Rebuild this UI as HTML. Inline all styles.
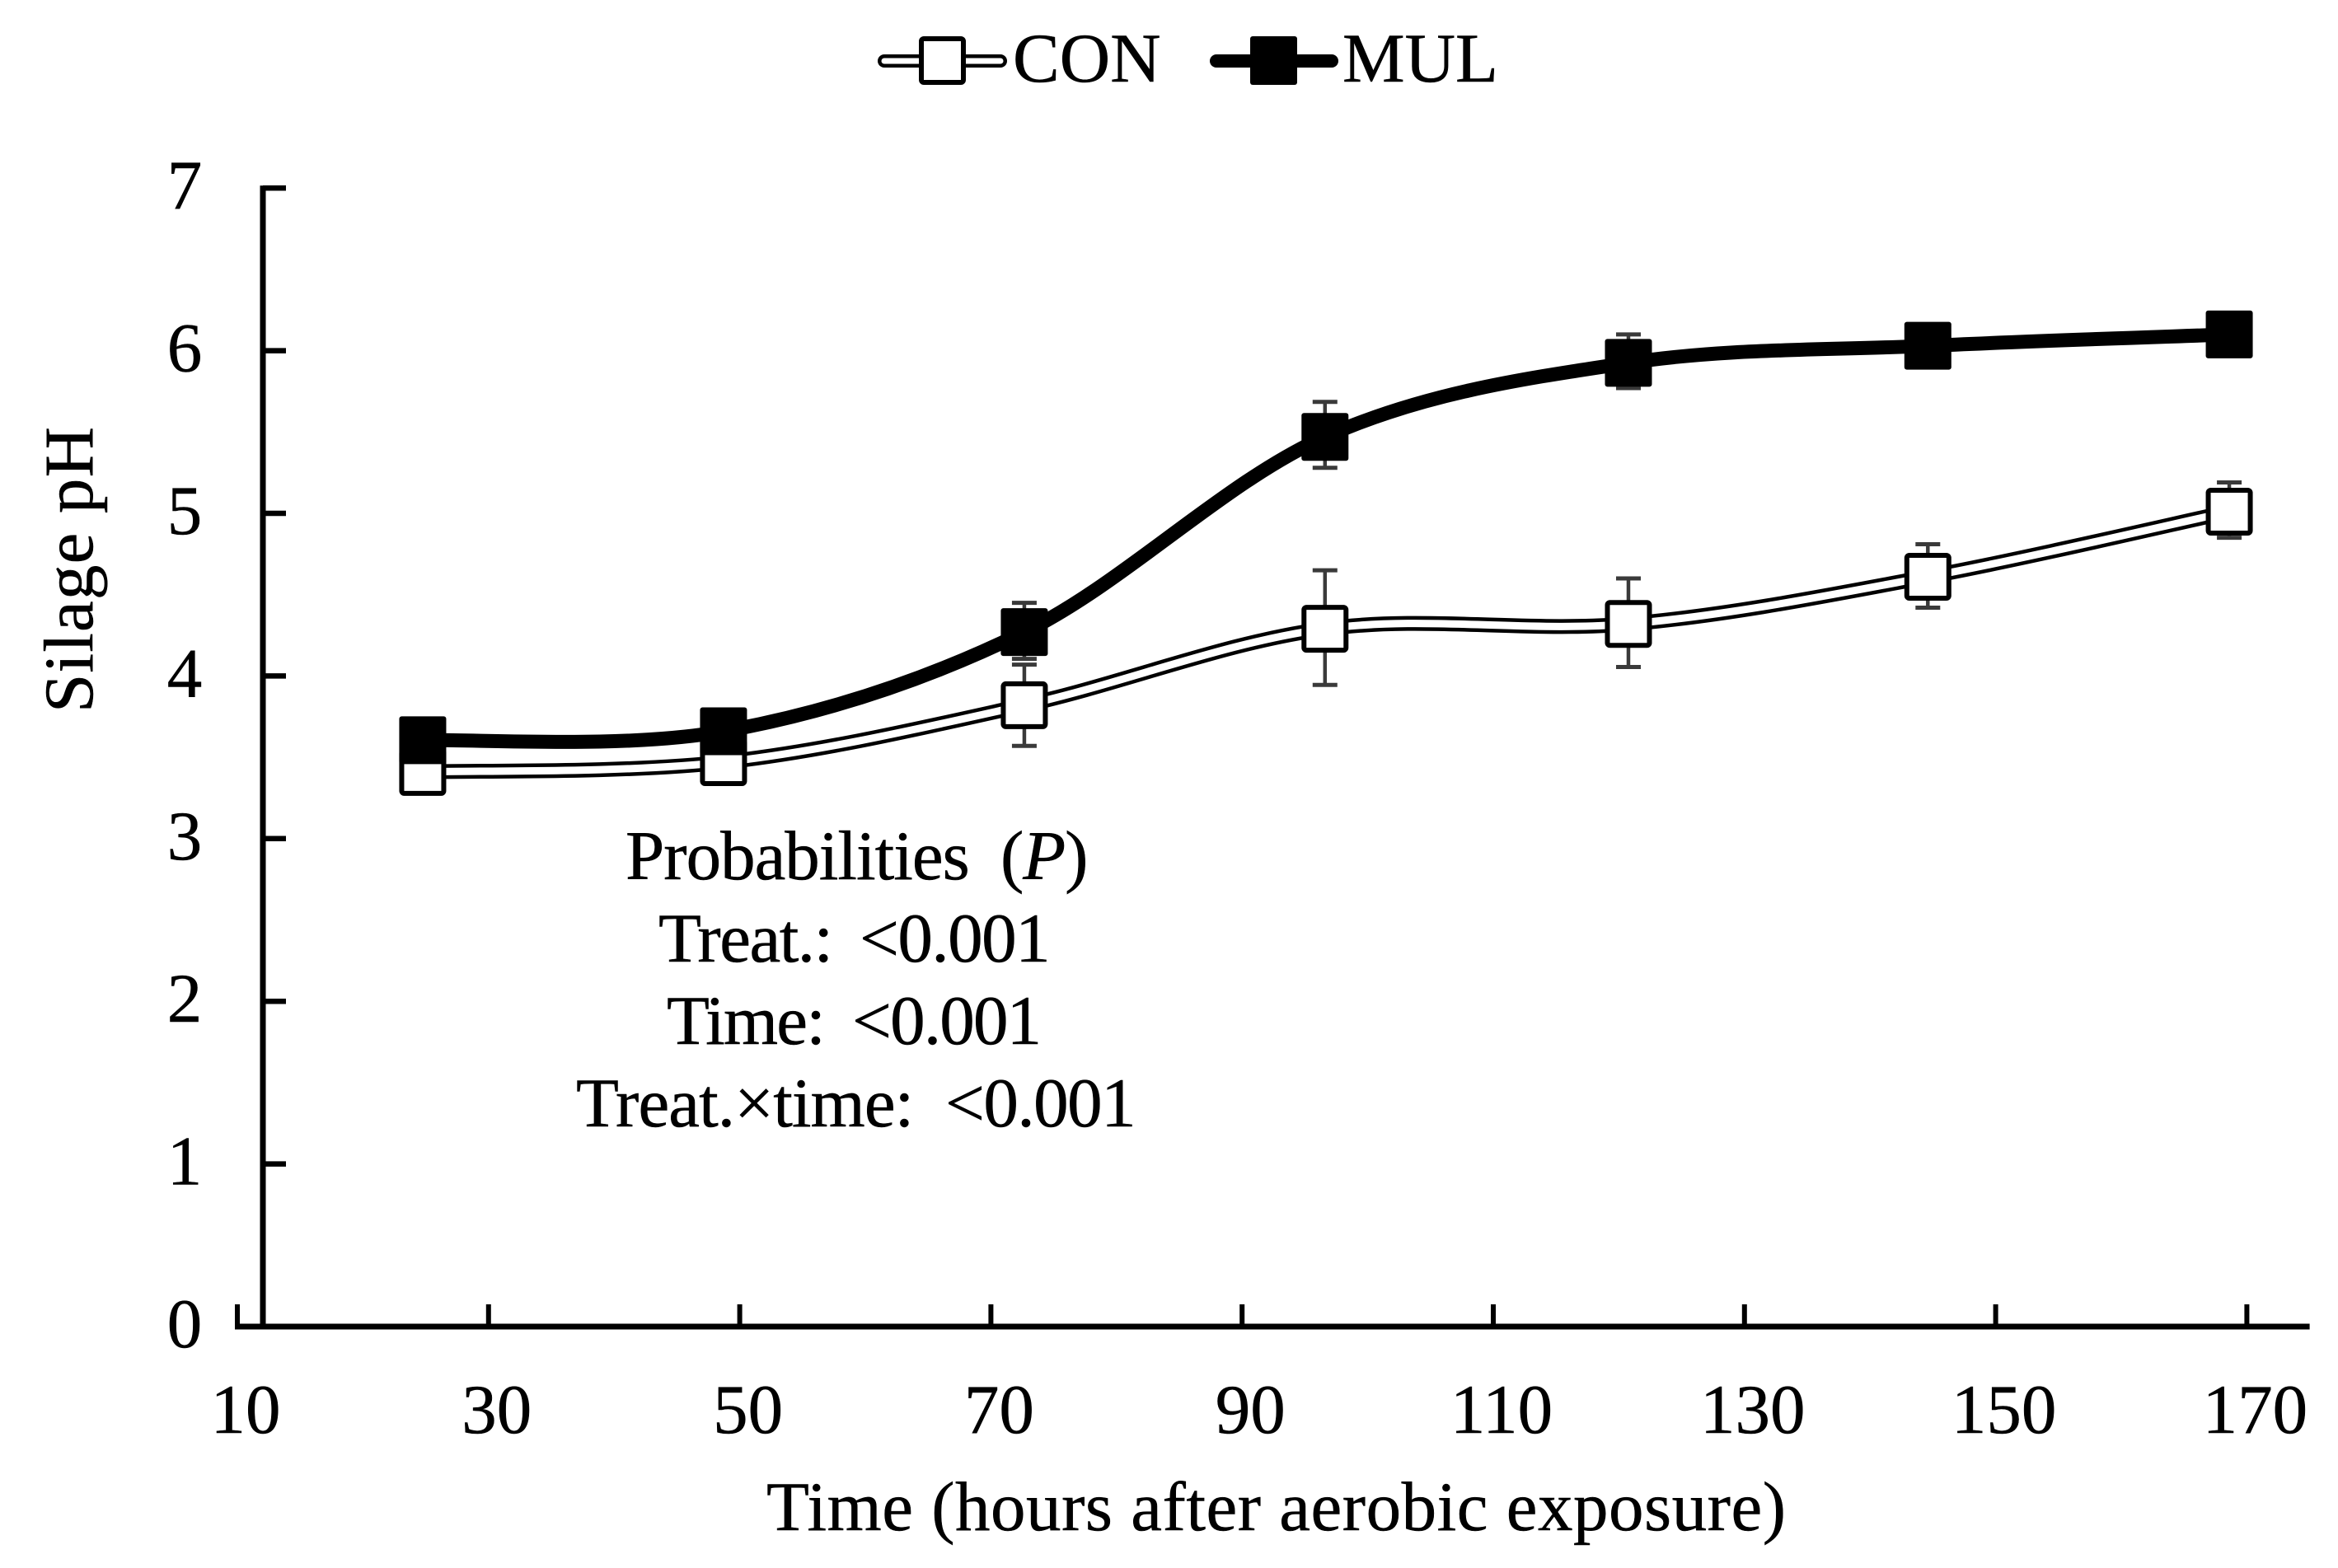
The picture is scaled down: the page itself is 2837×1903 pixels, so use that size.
<!DOCTYPE html>
<html lang="en">
<head>
<meta charset="utf-8">
<title>Silage pH over time after aerobic exposure</title>
<style>
html,body{margin:0;padding:0;background:#fff;}
svg{display:block;}
text{font-family:"Liberation Serif",serif;font-size:85px;fill:#000;stroke:#000;stroke-width:0.5px;}
</style>
</head>
<body>
<svg id="chart" xmlns="http://www.w3.org/2000/svg" width="2837" height="1903" viewBox="0 0 2837 1903">
  <rect x="0" y="0" width="2837" height="1903" fill="#ffffff"/>

  <g id="axes"></g>
  <g id="series"></g>

  <g>
    <g>
      <line x1="1073" y1="74" x2="1214" y2="74" stroke="#000" stroke-width="16" stroke-linecap="round"/>
      <line x1="1073" y1="74" x2="1214" y2="74" stroke="#fff" stroke-width="7" stroke-linecap="round"/>
      <rect x="1118" y="47" width="51" height="53" rx="3" fill="#fff" stroke="#000" stroke-width="6"/>
      <text x="1229" y="99">CON</text>
    </g>
    <g>
      <line x1="1476" y1="74" x2="1616" y2="74" stroke="#000" stroke-width="16" stroke-linecap="round"/>
      <rect x="1517" y="44" width="57" height="59" rx="3" fill="#000"/>
      <text x="1629" y="99">MUL</text>
    </g>
  </g>

  <text transform="translate(112 865) rotate(-90)" x="0" y="0" textLength="347" lengthAdjust="spacing">Silage pH</text>
  <text x="930" y="1857" textLength="1237" lengthAdjust="spacing">Time (hours after aerobic exposure)</text>

  <g>
    <text x="759" y="1067" letter-spacing="-1" word-spacing="18">Probabilities (<tspan font-style="italic">P</tspan>)</text>
    <text x="799" y="1167" letter-spacing="-1.5">Treat.: <tspan x="1043">&lt;0.001</tspan></text>
    <text x="809" y="1267" letter-spacing="-1.8">Time: <tspan x="1034">&lt;0.001</tspan></text>
    <text x="699" y="1367" letter-spacing="-0.9">Treat.×time: <tspan x="1147" letter-spacing="-1.5">&lt;0.001</tspan></text>
  </g>
</svg>

<script>
// Chart data
const xTickLabels = [10, 30, 50, 70, 90, 110, 130, 150, 170];
const yTickLabels = [0, 1, 2, 3, 4, 5, 6, 7];
const times = [24.76, 48.71, 72.66, 96.6, 120.76, 144.6, 168.6];
const conValues = [3.41, 3.47, 3.82, 4.29, 4.32, 4.61, 5.01];
const conErrUp = [0.05, 0.05, 0.25, 0.36, 0.28, 0.2, 0.18];
const conErrDown = [0.05, 0.05, 0.25, 0.345, 0.265, 0.19, 0.16];
const mulValues = [3.605, 3.66, 4.27, 5.47, 5.925, 6.03, 6.1];
const mulErrUp = [0.06, 0.06, 0.18, 0.215, 0.175, 0.1, 0.08];
const mulErrDown = [0.06, 0.06, 0.165, 0.19, 0.155, 0.1, 0.08];

const SVG_NS = 'http://www.w3.org/2000/svg';
const xScale = function (t) { return 288 + (t - 10) * 15.24; };
const yScale = function (v) { return 1610 - v * 197.4; };
const X_AXIS_MAX = 175;

function make(parent, tag, attrs) {
  const el = document.createElementNS(SVG_NS, tag);
  Object.keys(attrs).forEach(function (k) { el.setAttribute(k, attrs[k]); });
  parent.appendChild(el);
  return el;
}

function smoothPath(xs, ys) {
  let d = 'M' + xs[0] + ' ' + ys[0];
  for (let i = 0; i < xs.length - 1; i++) {
    const i0 = Math.max(i - 1, 0);
    const i3 = Math.min(i + 2, xs.length - 1);
    const c1x = xs[i] + (xs[i + 1] - xs[i0]) / 6;
    const c1y = ys[i] + (ys[i + 1] - ys[i0]) / 6;
    const c2x = xs[i + 1] - (xs[i3] - xs[i]) / 6;
    const c2y = ys[i + 1] - (ys[i3] - ys[i]) / 6;
    d += 'C' + c1x + ' ' + c1y + ' ' + c2x + ' ' + c2y + ' ' + xs[i + 1] + ' ' + ys[i + 1];
  }
  return d;
}

function drawAxes() {
  const axes = document.getElementById('axes');
  const left = xScale(xTickLabels[0]);
  const right = xScale(X_AXIS_MAX);
  const base = yScale(0);
  const top = yScale(yTickLabels[yTickLabels.length - 1]);
  const yAxisX = 319;

  const xAxis = make(axes, 'line', { x1: left - 3, y1: base, x2: right, y2: base, stroke: '#000', 'stroke-width': 7 });
  
  

  const yAxis = make(axes, 'line', { x1: yAxisX, y1: top - 3, x2: yAxisX, y2: base, stroke: '#000', 'stroke-width': 7 });
  
  

  xTickLabels.forEach(function (label) {
    const px = xScale(label);
    const tick = make(axes, 'line', { x1: px, y1: base, x2: px, y2: base - 27, stroke: '#000', 'stroke-width': 6 });
    
    
    const txt = make(axes, 'text', { x: px + 10, y: 1739, 'text-anchor': 'middle' });
    
    
    txt.textContent = label;
  });

  yTickLabels.forEach(function (label) {
    const py = yScale(label);
    if (label > 0) {
      const tick = make(axes, 'line', { x1: yAxisX, y1: py, x2: yAxisX + 28, y2: py, stroke: '#000', 'stroke-width': 6.5 });
      
      
    }
    const txt = make(axes, 'text', { x: 224, y: py + 25, 'text-anchor': 'middle' });
    
    
    txt.textContent = label;
  });
}

function drawErrorBars(group, key, values, up, down) {
  values.forEach(function (v, i) {
    const px = xScale(times[i]);
    const yTop = yScale(v + up[i]);
    const yBottom = yScale(v - down[i]);
    const stem = make(group, 'line', { x1: px, y1: yTop, x2: px, y2: yBottom, stroke: '#3a3a3a', 'stroke-width': 4.5 });
    
    
    const capTop = make(group, 'line', { x1: px - 15, y1: yTop, x2: px + 15, y2: yTop, stroke: '#3a3a3a', 'stroke-width': 5 });
    
    
    const capBottom = make(group, 'line', { x1: px - 15, y1: yBottom, x2: px + 15, y2: yBottom, stroke: '#3a3a3a', 'stroke-width': 5 });
    
    
  });
}

function drawCon(group) {
  const xs = times.map(xScale);
  const ys = conValues.map(yScale);
  const d = smoothPath(xs, ys);
  const outer = make(group, 'path', { d: d, fill: 'none', stroke: '#000', 'stroke-width': 18 });
  
  
  const inner = make(group, 'path', { d: d, fill: 'none', stroke: '#fff', 'stroke-width': 9 });
  
  
  xs.forEach(function (px, i) {
    const m = make(group, 'rect', { x: px - 25.5, y: ys[i] - 26, width: 51, height: 52, rx: 3, fill: '#fff', stroke: '#000', 'stroke-width': 6 });
    
    
  });
}

function drawMul(group) {
  const xs = times.map(xScale);
  const ys = mulValues.map(yScale);
  const line = make(group, 'path', { d: smoothPath(xs, ys), fill: 'none', stroke: '#000', 'stroke-width': 17 });
  
  
  xs.forEach(function (px, i) {
    const m = make(group, 'rect', { x: px - 28.5, y: ys[i] - 29, width: 57, height: 58, rx: 3, fill: '#000' });
    
    
  });
}

drawAxes();
const seriesLayer = document.getElementById('series');
drawErrorBars(seriesLayer, 'con', conValues, conErrUp, conErrDown);
drawErrorBars(seriesLayer, 'mul', mulValues, mulErrUp, mulErrDown);
drawCon(seriesLayer);
drawMul(seriesLayer);
</script>
</body>
</html>
